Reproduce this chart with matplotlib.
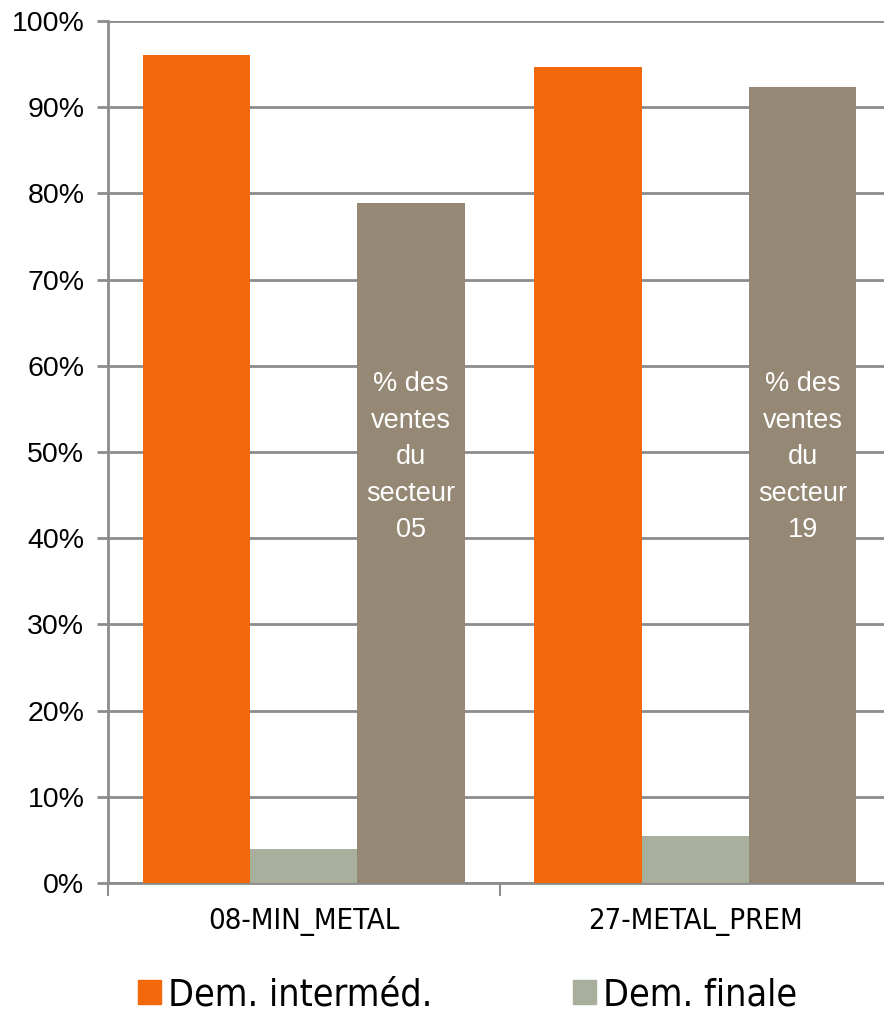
import matplotlib
matplotlib.use('Agg')
from matplotlib import pyplot as plt
from matplotlib.patches import Patch
from matplotlib.ticker import FixedLocator, PercentFormatter
from matplotlib.font_manager import FontProperties
import numpy as np

# donnees
categories = ['08-MIN_METAL', '27-METAL_PREM']
dem_intermed = [96.1, 94.7]
dem_finale = [3.9, 5.4]
ventes_secteur = [78.9, 92.4]
secteurs = ['05', '19']
legende = ['Dem. interméd.', 'Dem. finale']

c_orange = '#F4680C'
c_vert = '#A8AF9C'
c_brun = '#958874'
c_gris = '#8C8C8C'

fig = plt.figure(figsize=(8.84, 10.15), dpi=100)
ax = fig.add_axes([108 / 884, 1 - 883 / 1015, 783 / 884, 862 / 1015])

x = np.arange(len(categories)) + 0.5
w = 0.274
ax.bar(x - w, dem_intermed, w, color=c_orange, zorder=3)
ax.bar(x, dem_finale, w, color=c_vert, zorder=3)
ax.bar(x + w, ventes_secteur, w, color=c_brun, zorder=3)

for xi, s in zip(x, secteurs):
    ax.text(xi + w, 49.4, f'% des\nventes\ndu\nsecteur\n{s}', ha='center', va='center',
            color='white', fontsize=19.5, family='Liberation Sans', linespacing=1.52, zorder=4)

ax.set_xlim(0, len(categories))
ax.set_ylim(0, 100)
ax.yaxis.set_major_locator(FixedLocator(np.arange(0, 101, 10)))
ax.yaxis.set_major_formatter(PercentFormatter(decimals=0))
ax.grid(axis='y', color=c_gris, linewidth=2, zorder=0)
ax.set_axisbelow(True)

cond = FontProperties(family='DejaVu Sans', stretch='condensed', size=21)
ax.set_xticks(x)
ax.set_xticklabels(categories, fontproperties=cond)
ax.set_xticks(np.arange(len(categories) + 1), minor=True)
ax.tick_params(axis='x', which='major', length=0, pad=18)
ax.tick_params(axis='x', which='minor', length=9, width=1.5, color=c_gris, direction='out')
ax.tick_params(axis='y', length=8, width=2, color=c_gris, labelsize=20.5, pad=9)
for lab in ax.get_yticklabels():
    lab.set_family('Liberation Sans')

for sp in ['top', 'right']:
    ax.spines[sp].set_visible(False)
for sp in ['left', 'bottom']:
    ax.spines[sp].set_color(c_gris)
    ax.spines[sp].set_linewidth(2)

handles = [Patch(color=c_orange), Patch(color=c_vert)]
fig.legend(handles, legende, loc='center', bbox_to_anchor=(0.529, 1 - 995 / 1015), ncol=2,
           frameon=False, prop=FontProperties(family='DejaVu Sans', stretch='condensed', size=27),
           handlelength=0.62, handleheight=0.62, handletextpad=0.18, columnspacing=3.75,
           borderpad=0.1)

fig.savefig('out.png', dpi=100)
